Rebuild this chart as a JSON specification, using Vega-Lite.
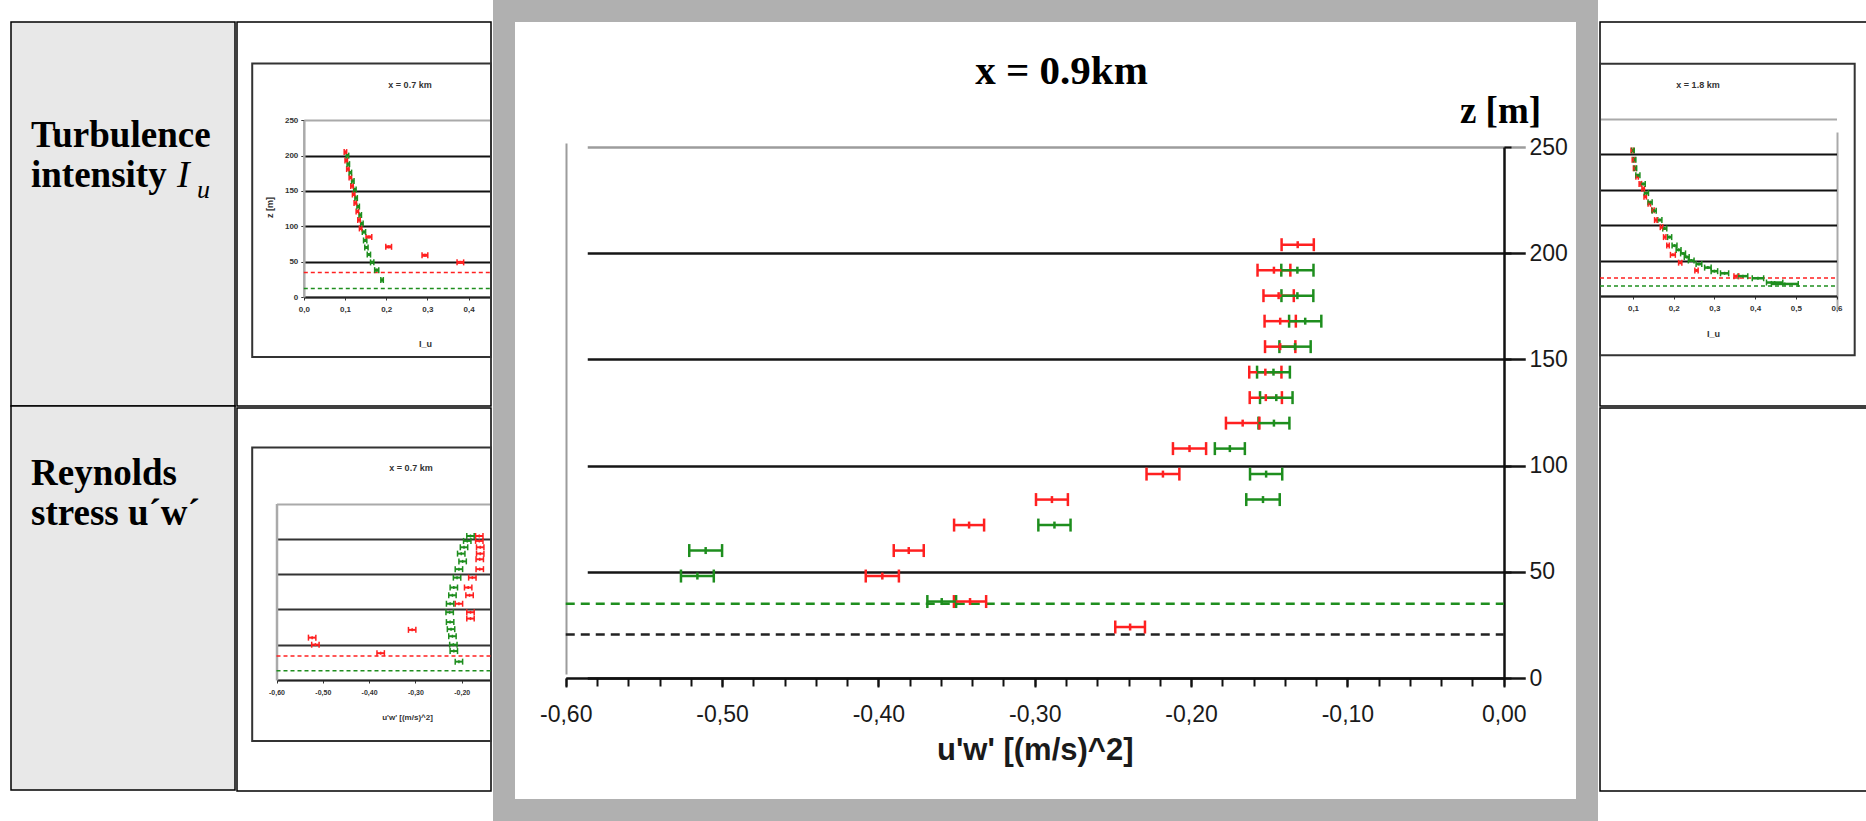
{
  "$schema": "https://vega.github.io/schema/vega-lite/v6.json",
  "padding": 0,
  "spacing": 0,
  "background": "white",
  "config": {
    "view": {"stroke": null},
    "locale": {"number": {"decimal": ",", "thousands": ".", "grouping": [3], "currency": ["", ""], "minus": "-"}},
    "axis": {"labelFont": "Liberation Sans", "titleFont": "Liberation Sans", "labelOverlap": false},
    "font": "Liberation Sans"
  },
  "datasets": {
    "headers": [
      {"row": 1, "label": "Turbulence\nintensity", "symbol": "I", "sub": "u"},
      {"row": 2, "label": "Reynolds\nstress u´w´"}
    ],
    "main": [
      {"series": "A", "z": 24, "uw": -0.239, "err": 0.0095},
      {"series": "A", "z": 36, "uw": -0.3414, "err": 0.0103},
      {"series": "A", "z": 48, "uw": -0.3975, "err": 0.0106},
      {"series": "A", "z": 60, "uw": -0.3806, "err": 0.0096},
      {"series": "A", "z": 72, "uw": -0.342, "err": 0.0096},
      {"series": "A", "z": 84, "uw": -0.289, "err": 0.0102},
      {"series": "A", "z": 96, "uw": -0.218, "err": 0.0105},
      {"series": "A", "z": 108, "uw": -0.201, "err": 0.0106},
      {"series": "A", "z": 120, "uw": -0.167, "err": 0.0107},
      {"series": "A", "z": 132, "uw": -0.1522, "err": 0.0103},
      {"series": "A", "z": 144, "uw": -0.1525, "err": 0.0103},
      {"series": "A", "z": 156, "uw": -0.143, "err": 0.0097},
      {"series": "A", "z": 168, "uw": -0.143, "err": 0.01},
      {"series": "A", "z": 180, "uw": -0.144, "err": 0.0097},
      {"series": "A", "z": 192, "uw": -0.147, "err": 0.0105},
      {"series": "A", "z": 204, "uw": -0.1318, "err": 0.0103},
      {"series": "B", "z": 36, "uw": -0.3595, "err": 0.0092},
      {"series": "B", "z": 48, "uw": -0.5158, "err": 0.0105},
      {"series": "B", "z": 60, "uw": -0.5105, "err": 0.0105},
      {"series": "B", "z": 72, "uw": -0.2874, "err": 0.0103},
      {"series": "B", "z": 84, "uw": -0.154, "err": 0.0107},
      {"series": "B", "z": 96, "uw": -0.152, "err": 0.0103},
      {"series": "B", "z": 108, "uw": -0.1752, "err": 0.0096},
      {"series": "B", "z": 120, "uw": -0.147, "err": 0.0099},
      {"series": "B", "z": 132, "uw": -0.1455, "err": 0.0104},
      {"series": "B", "z": 144, "uw": -0.1473, "err": 0.0105},
      {"series": "B", "z": 156, "uw": -0.1335, "err": 0.01},
      {"series": "B", "z": 168, "uw": -0.127, "err": 0.0103},
      {"series": "B", "z": 180, "uw": -0.132, "err": 0.0102},
      {"series": "B", "z": 192, "uw": -0.132, "err": 0.0103}
    ],
    "mainLines": [
      {"series": "B", "z": 35},
      {"series": "C", "z": 20.5}
    ],
    "tl": [
      {"series": "A", "z": 205, "iu": 0.101, "err": 0.003},
      {"series": "A", "z": 193, "iu": 0.103, "err": 0.003},
      {"series": "A", "z": 181, "iu": 0.107, "err": 0.003},
      {"series": "A", "z": 169, "iu": 0.113, "err": 0.003},
      {"series": "A", "z": 157, "iu": 0.117, "err": 0.003},
      {"series": "A", "z": 145, "iu": 0.121, "err": 0.003},
      {"series": "A", "z": 133, "iu": 0.125, "err": 0.003},
      {"series": "A", "z": 121, "iu": 0.13, "err": 0.003},
      {"series": "A", "z": 109, "iu": 0.134, "err": 0.003},
      {"series": "A", "z": 97, "iu": 0.138, "err": 0.003},
      {"series": "A", "z": 85, "iu": 0.158, "err": 0.007},
      {"series": "A", "z": 71, "iu": 0.206, "err": 0.007},
      {"series": "A", "z": 59, "iu": 0.294, "err": 0.007},
      {"series": "A", "z": 49, "iu": 0.38, "err": 0.008},
      {"series": "B", "z": 200, "iu": 0.106, "err": 0.003},
      {"series": "B", "z": 188, "iu": 0.108, "err": 0.003},
      {"series": "B", "z": 176, "iu": 0.113, "err": 0.003},
      {"series": "B", "z": 164, "iu": 0.119, "err": 0.003},
      {"series": "B", "z": 152, "iu": 0.124, "err": 0.003},
      {"series": "B", "z": 140, "iu": 0.127, "err": 0.003},
      {"series": "B", "z": 128, "iu": 0.132, "err": 0.003},
      {"series": "B", "z": 116, "iu": 0.137, "err": 0.003},
      {"series": "B", "z": 104, "iu": 0.141, "err": 0.003},
      {"series": "B", "z": 92, "iu": 0.146, "err": 0.004},
      {"series": "B", "z": 80, "iu": 0.149, "err": 0.004},
      {"series": "B", "z": 70, "iu": 0.152, "err": 0.004},
      {"series": "B", "z": 60, "iu": 0.158, "err": 0.004},
      {"series": "B", "z": 49, "iu": 0.166, "err": 0.004},
      {"series": "B", "z": 38, "iu": 0.177, "err": 0.005},
      {"series": "B", "z": 24, "iu": 0.19, "err": 0.003}
    ],
    "tlLines": [
      {"series": "A", "z": 34.5},
      {"series": "B", "z": 12}
    ],
    "bl": [
      {"series": "A", "z": 204, "uw": -0.162, "err": 0.008},
      {"series": "A", "z": 197, "uw": -0.162, "err": 0.008},
      {"series": "A", "z": 188, "uw": -0.16, "err": 0.008},
      {"series": "A", "z": 179, "uw": -0.16, "err": 0.008},
      {"series": "A", "z": 171, "uw": -0.161, "err": 0.008},
      {"series": "A", "z": 157, "uw": -0.161, "err": 0.008},
      {"series": "A", "z": 145, "uw": -0.177, "err": 0.008},
      {"series": "A", "z": 131, "uw": -0.186, "err": 0.008},
      {"series": "A", "z": 120, "uw": -0.183, "err": 0.008},
      {"series": "A", "z": 108, "uw": -0.206, "err": 0.008},
      {"series": "A", "z": 96, "uw": -0.181, "err": 0.008},
      {"series": "A", "z": 87, "uw": -0.181, "err": 0.008},
      {"series": "A", "z": 71, "uw": -0.307, "err": 0.008},
      {"series": "A", "z": 60, "uw": -0.523, "err": 0.008},
      {"series": "A", "z": 50, "uw": -0.516, "err": 0.008},
      {"series": "A", "z": 38, "uw": -0.375, "err": 0.008},
      {"series": "B", "z": 204, "uw": -0.181, "err": 0.008},
      {"series": "B", "z": 197, "uw": -0.188, "err": 0.008},
      {"series": "B", "z": 188, "uw": -0.195, "err": 0.008},
      {"series": "B", "z": 179, "uw": -0.201, "err": 0.008},
      {"series": "B", "z": 168, "uw": -0.198, "err": 0.008},
      {"series": "B", "z": 157, "uw": -0.206, "err": 0.008},
      {"series": "B", "z": 145, "uw": -0.21, "err": 0.008},
      {"series": "B", "z": 131, "uw": -0.217, "err": 0.008},
      {"series": "B", "z": 120, "uw": -0.22, "err": 0.008},
      {"series": "B", "z": 108, "uw": -0.225, "err": 0.008},
      {"series": "B", "z": 96, "uw": -0.226, "err": 0.008},
      {"series": "B", "z": 82, "uw": -0.225, "err": 0.008},
      {"series": "B", "z": 72, "uw": -0.223, "err": 0.008},
      {"series": "B", "z": 62, "uw": -0.22, "err": 0.008},
      {"series": "B", "z": 50, "uw": -0.218, "err": 0.008},
      {"series": "B", "z": 41, "uw": -0.217, "err": 0.008},
      {"series": "B", "z": 26, "uw": -0.206, "err": 0.008}
    ],
    "blLines": [
      {"series": "A", "z": 34},
      {"series": "B", "z": 13}
    ],
    "tr": [
      {"series": "A", "z": 205, "iu": 0.098, "err": 0.003},
      {"series": "A", "z": 192, "iu": 0.101, "err": 0.003},
      {"series": "A", "z": 180, "iu": 0.104, "err": 0.003},
      {"series": "A", "z": 168, "iu": 0.11, "err": 0.003},
      {"series": "A", "z": 158, "iu": 0.118, "err": 0.003},
      {"series": "A", "z": 151, "iu": 0.125, "err": 0.003},
      {"series": "A", "z": 140, "iu": 0.13, "err": 0.003},
      {"series": "A", "z": 130, "iu": 0.14, "err": 0.003},
      {"series": "A", "z": 121, "iu": 0.149, "err": 0.003},
      {"series": "A", "z": 107, "iu": 0.156, "err": 0.003},
      {"series": "A", "z": 97, "iu": 0.17, "err": 0.003},
      {"series": "A", "z": 83, "iu": 0.178, "err": 0.003},
      {"series": "A", "z": 71, "iu": 0.186, "err": 0.003},
      {"series": "A", "z": 58, "iu": 0.198, "err": 0.006},
      {"series": "A", "z": 47, "iu": 0.216, "err": 0.004},
      {"series": "A", "z": 36, "iu": 0.256, "err": 0.004},
      {"series": "A", "z": 28, "iu": 0.354, "err": 0.006},
      {"series": "B", "z": 205, "iu": 0.1, "err": 0.003},
      {"series": "B", "z": 192, "iu": 0.104, "err": 0.003},
      {"series": "B", "z": 180, "iu": 0.106, "err": 0.003},
      {"series": "B", "z": 170, "iu": 0.112, "err": 0.005},
      {"series": "B", "z": 158, "iu": 0.125, "err": 0.005},
      {"series": "B", "z": 145, "iu": 0.133, "err": 0.005},
      {"series": "B", "z": 132, "iu": 0.142, "err": 0.005},
      {"series": "B", "z": 120, "iu": 0.152, "err": 0.005},
      {"series": "B", "z": 107, "iu": 0.166, "err": 0.005},
      {"series": "B", "z": 95, "iu": 0.178, "err": 0.005},
      {"series": "B", "z": 83, "iu": 0.19, "err": 0.005},
      {"series": "B", "z": 71, "iu": 0.202, "err": 0.006},
      {"series": "B", "z": 65, "iu": 0.212, "err": 0.006},
      {"series": "B", "z": 60, "iu": 0.223, "err": 0.006},
      {"series": "B", "z": 55, "iu": 0.232, "err": 0.006},
      {"series": "B", "z": 50, "iu": 0.243, "err": 0.007},
      {"series": "B", "z": 45, "iu": 0.262, "err": 0.007},
      {"series": "B", "z": 40, "iu": 0.284, "err": 0.008},
      {"series": "B", "z": 35, "iu": 0.3, "err": 0.008},
      {"series": "B", "z": 32, "iu": 0.325, "err": 0.01},
      {"series": "B", "z": 28, "iu": 0.37, "err": 0.012},
      {"series": "B", "z": 25, "iu": 0.407, "err": 0.014},
      {"series": "B", "z": 19, "iu": 0.448, "err": 0.02},
      {"series": "B", "z": 17, "iu": 0.473, "err": 0.033}
    ],
    "trLines": [
      {"series": "A", "z": 25.5},
      {"series": "B", "z": 14}
    ]
  },
  "hconcat": [
    {
      "spacing": 0,
      "hconcat": [
        {
          "width": 235,
          "height": 821,
          "data": {"name": "headers"},
          "layer": [
            {
              "mark": {"type": "rect", "fill": "#e8e8e8", "stroke": "#000", "strokeWidth": 1.5},
              "encoding": {
                "x": {"datum": "cell", "type": "nominal", "scale": {"range": [11, 235], "paddingInner": 0, "paddingOuter": 0}, "axis": null},
                "y": {"field": "row", "type": "ordinal", "scale": {"range": [11, 779], "paddingInner": 0, "paddingOuter": 0}, "axis": null}
              }
            },
            {
              "transform": [{"filter": "datum.row == 1"}],
              "mark": {"type": "text", "align": "left", "baseline": "alphabetic", "font": "Liberation Serif", "fontSize": 37, "fontWeight": "bold", "lineBreak": "\n", "lineHeight": 40, "dx": 20, "dy": 125, "color": "#000"},
              "encoding": {
                "x": {"datum": "cell", "type": "nominal", "bandPosition": 0},
                "y": {"field": "row", "type": "ordinal", "bandPosition": 0},
                "text": {"field": "label"}
              }
            },
            {
              "transform": [{"filter": "datum.row == 2"}],
              "mark": {"type": "text", "align": "left", "baseline": "alphabetic", "font": "Liberation Serif", "fontSize": 37, "fontWeight": "bold", "lineBreak": "\n", "lineHeight": 40, "dx": 20, "dy": 79, "color": "#000"},
              "encoding": {
                "x": {"datum": "cell", "type": "nominal", "bandPosition": 0},
                "y": {"field": "row", "type": "ordinal", "bandPosition": 0},
                "text": {"field": "label"}
              }
            },
            {
              "transform": [{"filter": "datum.row == 1"}],
              "mark": {"type": "text", "align": "left", "baseline": "alphabetic", "font": "Liberation Serif", "fontSize": 38, "fontStyle": "italic", "dx": 166, "dy": 165, "color": "#000"},
              "encoding": {
                "x": {"datum": "cell", "type": "nominal", "bandPosition": 0},
                "y": {"field": "row", "type": "ordinal", "bandPosition": 0},
                "text": {"field": "symbol"}
              }
            },
            {
              "transform": [{"filter": "datum.row == 1"}],
              "mark": {"type": "text", "align": "left", "baseline": "alphabetic", "font": "Liberation Serif", "fontSize": 26, "fontStyle": "italic", "dx": 186, "dy": 176, "color": "#000"},
              "encoding": {
                "x": {"datum": "cell", "type": "nominal", "bandPosition": 0},
                "y": {"field": "row", "type": "ordinal", "bandPosition": 0},
                "text": {"field": "sub"}
              }
            }
          ]
        },
        {
          "spacing": 0,
          "vconcat": [
            {"width": 254, "height": 10, "data": {"values": []}, "mark": "point"},
            {
              "width": 254,
              "height": 384,
              "view": {"stroke": "#000", "strokeWidth": 1.5, "fill": "white"},
              "title": {"text": "x = 0.7 km", "frame": "group", "anchor": "middle", "offset": -75, "dx": 46, "baseline": "alphabetic", "font": "Liberation Sans", "fontSize": 9, "fontWeight": "bold", "color": "#333"},
              "layer": [
                {
                  "data": {"values": [{}]},
                  "mark": {"type": "rect", "fill": "transparent", "stroke": "#333", "strokeWidth": 2},
                  "encoding": {
                    "x": {"datum": -0.1252, "type": "quantitative"},
                    "x2": {"datum": 0.4544},
                    "y": {"datum": 330.3, "type": "quantitative"},
                    "y2": {"datum": -84.8}
                  }
                },
                {
                  "data": {"name": "tlLines"},
                  "mark": {"type": "rule", "strokeDash": [4, 3], "strokeWidth": 1.5},
                  "encoding": {
                    "y": {"field": "z", "type": "quantitative", "title": "z [m]"},
                    "x": {"datum": 0, "type": "quantitative"},
                    "x2": {"datum": 0.4544},
                    "color": {"field": "series", "type": "nominal", "scale": {"domain": ["A", "B", "C"], "range": ["#ff2020", "#1e8e1e", "#222222"]}, "legend": null}
                  }
                },
                {
                  "data": {"name": "tl"},
                  "mark": {"type": "errorbar", "ticks": {"size": 6, "thickness": 1.5, "opacity": 1}, "rule": {"strokeWidth": 3}},
                  "encoding": {
                    "x": {"field": "iu", "type": "quantitative", "title": "I_u"},
                    "xError": {"field": "err"},
                    "y": {"field": "z", "type": "quantitative", "title": "z [m]"},
                    "color": {"field": "series", "type": "nominal", "legend": null}
                  }
                },
                {
                  "data": {"name": "tl"},
                  "mark": {"type": "tick", "orient": "vertical", "size": 3, "thickness": 1.5, "opacity": 1},
                  "encoding": {
                    "x": {"field": "iu", "type": "quantitative", "title": "I_u", "scale": {"domain": [0, 0.4544], "range": [66.8, 254], "nice": false, "zero": false},
                      "axis": {"orient": "bottom", "offset": -109, "values": [0, 0.1, 0.2, 0.3, 0.4], "format": ".1f", "labelFontSize": 8, "labelFontWeight": "bold", "labelColor": "#333", "labelPadding": 5, "labelFlush": false, "labelOverlap": false, "tickSize": 3, "tickColor": "#333", "domainColor": "#222", "domainWidth": 1.5, "grid": false, "title": "I_u", "titleFontSize": 9, "titleFontWeight": "bold", "titleColor": "#333", "titleX": 188, "titleY": 46, "titleAlign": "center", "titleBaseline": "middle"}},
                    "y": {"field": "z", "type": "quantitative", "title": "z [m]", "scale": {"domain": [0, 250], "range": [275, 98.3], "nice": false, "zero": false},
                      "axis": {"orient": "left", "offset": -66.8, "values": [0, 50, 100, 150, 200, 250], "labelFontSize": 8, "labelFontWeight": "bold", "labelColor": "#333", "labelPadding": 3, "labelOverlap": false, "tickSize": 3, "tickColor": "#333", "domainColor": "#aaaaaa", "domainWidth": 2.5, "grid": true, "gridColor": {"condition": {"test": "datum.value > 240", "value": "#aaaaaa"}, "value": "#111111"}, "gridWidth": 1.8, "title": "z [m]", "titleFontSize": 9, "titleFontWeight": "bold", "titleColor": "#333", "titleX": -34, "titleY": 185, "titleAlign": "center", "titleBaseline": "middle"}},
                    "color": {"field": "series", "type": "nominal", "legend": null}
                  }
                }
              ]
            },
            {
              "width": 254,
              "height": 383,
              "view": {"stroke": "#000", "strokeWidth": 1.5, "fill": "white"},
              "title": {"text": "x = 0.7 km", "frame": "group", "anchor": "middle", "offset": -72, "dx": 47, "baseline": "alphabetic", "font": "Liberation Sans", "fontSize": 9, "fontWeight": "bold", "color": "#333"},
              "layer": [
                {
                  "data": {"values": [{}]},
                  "mark": {"type": "rect", "fill": "transparent", "stroke": "#333", "strokeWidth": 2},
                  "encoding": {
                    "x": {"datum": -0.6525, "type": "quantitative"},
                    "x2": {"datum": -0.1367},
                    "y": {"datum": 329.4, "type": "quantitative"},
                    "y2": {"datum": -86.3}
                  }
                },
                {
                  "data": {"name": "blLines"},
                  "mark": {"type": "rule", "strokeDash": [4, 3], "strokeWidth": 1.5},
                  "encoding": {
                    "y": {"field": "z", "type": "quantitative", "title": "z [m]"},
                    "x": {"datum": -0.6, "type": "quantitative"},
                    "x2": {"datum": -0.1367},
                    "color": {"field": "series", "type": "nominal", "scale": {"domain": ["A", "B", "C"], "range": ["#ff2020", "#1e8e1e", "#222222"]}, "legend": null}
                  }
                },
                {
                  "data": {"name": "bl"},
                  "mark": {"type": "errorbar", "ticks": {"size": 6, "thickness": 1.5, "opacity": 1}, "rule": {"strokeWidth": 2}},
                  "encoding": {
                    "x": {"field": "uw", "type": "quantitative", "title": "u'w' [(m/s)^2]"},
                    "xError": {"field": "err"},
                    "y": {"field": "z", "type": "quantitative", "title": "z [m]"},
                    "color": {"field": "series", "type": "nominal", "legend": null}
                  }
                },
                {
                  "data": {"name": "bl"},
                  "mark": {"type": "tick", "orient": "vertical", "size": 3, "thickness": 1.5, "opacity": 1},
                  "encoding": {
                    "x": {"field": "uw", "type": "quantitative", "title": "u'w' [(m/s)^2]", "scale": {"domain": [-0.6, -0.1367], "range": [39.5, 254], "nice": false, "zero": false},
                      "axis": {"orient": "bottom", "offset": -111, "values": [-0.6, -0.5, -0.4, -0.3, -0.2], "format": ".2f", "labelFontSize": 7, "labelFontWeight": "bold", "labelColor": "#333", "labelPadding": 5, "labelFlush": false, "labelOverlap": false, "tickSize": 3, "tickColor": "#333", "domainColor": "#222", "domainWidth": 1.5, "grid": false, "title": "u'w' [(m/s)^2]", "titleFontSize": 8, "titleFontWeight": "bold", "titleColor": "#333", "titleX": 170, "titleY": 37, "titleAlign": "center", "titleBaseline": "middle"}},
                    "y": {"field": "z", "type": "quantitative", "title": "z [m]", "scale": {"domain": [0, 250], "range": [272, 95.5], "nice": false, "zero": false},
                      "axis": {"orient": "left", "offset": -39.5, "values": [0, 50, 100, 150, 200, 250], "labels": false, "ticks": false, "domainColor": "#aaaaaa", "domainWidth": 2.5, "grid": true, "gridColor": {"condition": {"test": "datum.value > 240", "value": "#aaaaaa"}, "value": "#333333"}, "gridWidth": 2, "title": null}},
                    "color": {"field": "series", "type": "nominal", "legend": null}
                  }
                }
              ]
            }
          ]
        }
      ]
    },
    {
      "width": 1083,
      "height": 799,
      "view": {"stroke": "#b0b0b0", "strokeWidth": 22, "fill": "white"},
      "title": {"text": "x = 0.9km", "frame": "group", "anchor": "middle", "offset": -114, "dx": 16, "baseline": "alphabetic", "font": "Liberation Serif", "fontSize": 41, "fontWeight": "bold", "color": "#000"},
      "resolve": {"axis": {"x": "independent"}},
      "layer": [
        {
          "data": {"name": "mainLines"},
          "mark": {"type": "rule", "strokeDash": [9, 6], "strokeWidth": 2.5},
          "encoding": {
            "y": {"field": "z", "type": "quantitative", "title": "z [m]"},
            "x": {"datum": -0.6, "type": "quantitative",
              "axis": {"orient": "bottom", "offset": -132, "values": [-0.6, -0.58, -0.56, -0.54, -0.52, -0.5, -0.48, -0.46, -0.44, -0.42, -0.4, -0.38, -0.36, -0.34, -0.32, -0.3, -0.28, -0.26, -0.24, -0.22, -0.2, -0.18, -0.16, -0.14, -0.12, -0.1, -0.08, -0.06, -0.04, -0.02, 0], "labels": false, "domain": false, "grid": false, "ticks": true, "tickSize": 8, "tickWidth": 2, "tickColor": "#111111", "title": null}},
            "x2": {"datum": 0},
            "color": {"field": "series", "type": "nominal", "scale": {"domain": ["A", "B", "C"], "range": ["#ff2020", "#1e8e1e", "#222222"]}, "legend": null}
          }
        },
        {
          "data": {"name": "main"},
          "mark": {"type": "errorbar", "ticks": {"size": 13, "thickness": 2.5, "opacity": 1}, "rule": {"strokeWidth": 2.5}},
          "encoding": {
            "x": {"field": "uw", "type": "quantitative", "title": "u'w' [(m/s)^2]", "axis": null},
            "xError": {"field": "err"},
            "y": {"field": "z", "type": "quantitative", "title": "z [m]"},
            "color": {"field": "series", "type": "nominal", "legend": null}
          }
        },
        {
          "data": {"name": "main"},
          "mark": {"type": "tick", "orient": "vertical", "size": 7, "thickness": 2.5, "opacity": 1},
          "encoding": {
            "x": {"field": "uw", "type": "quantitative", "title": "u'w' [(m/s)^2]", "scale": {"domain": [-0.6, 0], "range": [61.75, 999.75], "nice": false, "zero": false},
              "axis": {"orient": "bottom", "offset": -132, "values": [-0.6, -0.5, -0.4, -0.3, -0.2, -0.1, 0], "format": ".2f", "labelFont": "Liberation Sans", "labelFontSize": 23, "labelColor": "#1a1a1a", "labelPadding": 16, "labelFlush": false, "labelOverlap": false, "domainColor": "#111111", "domainWidth": 2.5, "tickColor": "#111111", "tickSize": 9, "tickWidth": 2, "grid": true, "gridColor": "#9c9c9c", "gridWidth": 2, "gridOpacity": {"condition": {"test": "datum.value < -0.59", "value": 1}, "value": 0}, "title": "u'w' [(m/s)^2]", "titleFont": "Liberation Sans", "titleFontWeight": "bold", "titleFontSize": 31, "titleColor": "#1a1a1a", "titlePadding": 9}},
            "y": {"field": "z", "type": "quantitative", "title": "z [m]", "scale": {"domain": [0, 250], "range": [667, 136], "nice": false, "zero": false},
              "axis": {"orient": "right", "offset": -83, "values": [0, 50, 100, 150, 200, 250], "format": "d", "labelFont": "Liberation Sans", "labelFontSize": 23, "labelColor": "#1a1a1a", "labelPadding": 18, "labelOverlap": false, "domainColor": "#111111", "domainWidth": 2.5, "tickColor": "#111111", "tickSize": 7, "tickWidth": 2, "grid": true, "gridColor": {"condition": {"test": "datum.value > 240", "value": "#9c9c9c"}, "value": "#151515"}, "gridWidth": 2.5, "title": "z [m]", "titleAngle": 0, "titleFont": "Liberation Serif", "titleFontSize": 37, "titleFontWeight": "bold", "titleColor": "#000", "titleAlign": "center", "titleBaseline": "alphabetic", "titleX": -4, "titleY": 111}},
            "color": {"field": "series", "type": "nominal", "legend": null}
          }
        }
      ]
    },
    {
      "spacing": 0,
      "vconcat": [
        {"width": 268, "height": 10, "data": {"values": []}, "mark": "point"},
        {
          "width": 268,
          "height": 384,
          "view": {"stroke": "#000", "strokeWidth": 1.5, "fill": "white"},
          "title": {"text": "x = 1.8 km", "frame": "group", "anchor": "middle", "offset": -75, "dx": -36, "baseline": "alphabetic", "font": "Liberation Sans", "fontSize": 9, "fontWeight": "bold", "color": "#333"},
          "layer": [
            {
              "data": {"values": [{}]},
              "mark": {"type": "rect", "fill": "transparent", "stroke": "#333", "strokeWidth": 2},
              "encoding": {
                "x": {"datum": 0.0189, "type": "quantitative"},
                "x2": {"datum": 0.6447},
                "y": {"datum": 327.4, "type": "quantitative"},
                "y2": {"datum": -83.5}
              }
            },
            {
              "data": {"name": "trLines"},
              "mark": {"type": "rule", "strokeDash": [4, 3], "strokeWidth": 1.5},
              "encoding": {
                "y": {"field": "z", "type": "quantitative", "title": "z [m]"},
                "x": {"datum": 0.0189, "type": "quantitative"},
                "x2": {"datum": 0.6},
                "color": {"field": "series", "type": "nominal", "scale": {"domain": ["A", "B", "C"], "range": ["#ff2020", "#1e8e1e", "#222222"]}, "legend": null}
              }
            },
            {
              "data": {"name": "tr"},
              "mark": {"type": "errorbar", "ticks": {"size": 6, "thickness": 1.5, "opacity": 1}, "rule": {"strokeWidth": 2.5}},
              "encoding": {
                "x": {"field": "iu", "type": "quantitative", "title": "I_u"},
                "xError": {"field": "err"},
                "y": {"field": "z", "type": "quantitative", "title": "z [m]"},
                "color": {"field": "series", "type": "nominal", "legend": null}
              }
            },
            {
              "data": {"name": "tr"},
              "mark": {"type": "tick", "orient": "vertical", "size": 3, "thickness": 1.5, "opacity": 1},
              "encoding": {
                "x": {"field": "iu", "type": "quantitative", "title": "I_u", "scale": {"domain": [0.0189, 0.6], "range": [0, 236.5], "nice": false, "zero": false},
                  "axis": {"orient": "bottom", "offset": -110, "values": [0.1, 0.2, 0.3, 0.4, 0.5, 0.6], "format": ".1f", "labelFontSize": 8, "labelFontWeight": "bold", "labelColor": "#333", "labelPadding": 5, "labelFlush": false, "labelOverlap": false, "tickSize": 3, "tickColor": "#333", "domainColor": "#222", "domainWidth": 1.5, "grid": true, "gridColor": "#aaaaaa", "gridWidth": 2, "gridOpacity": {"condition": {"test": "datum.value > 0.59", "value": 1}, "value": 0}, "title": "I_u", "titleFontSize": 9, "titleFontWeight": "bold", "titleColor": "#333", "titleX": 113, "titleY": 37, "titleAlign": "center", "titleBaseline": "middle"}},
                "y": {"field": "z", "type": "quantitative", "title": "z [m]", "scale": {"domain": [0, 250], "range": [274, 96.6], "nice": false, "zero": false},
                  "axis": {"orient": "left", "values": [0, 50, 100, 150, 200, 250], "labels": false, "ticks": false, "domain": false, "grid": true, "gridColor": {"condition": {"test": "datum.value > 240", "value": "#aaaaaa"}, "value": "#111111"}, "gridWidth": 1.8, "title": null}},
                "color": {"field": "series", "type": "nominal", "legend": null}
              }
            }
          ]
        },
        {"width": 268, "height": 383, "view": {"stroke": "#000", "strokeWidth": 1.5}, "data": {"values": []}, "mark": "point"}
      ]
    }
  ]
}
